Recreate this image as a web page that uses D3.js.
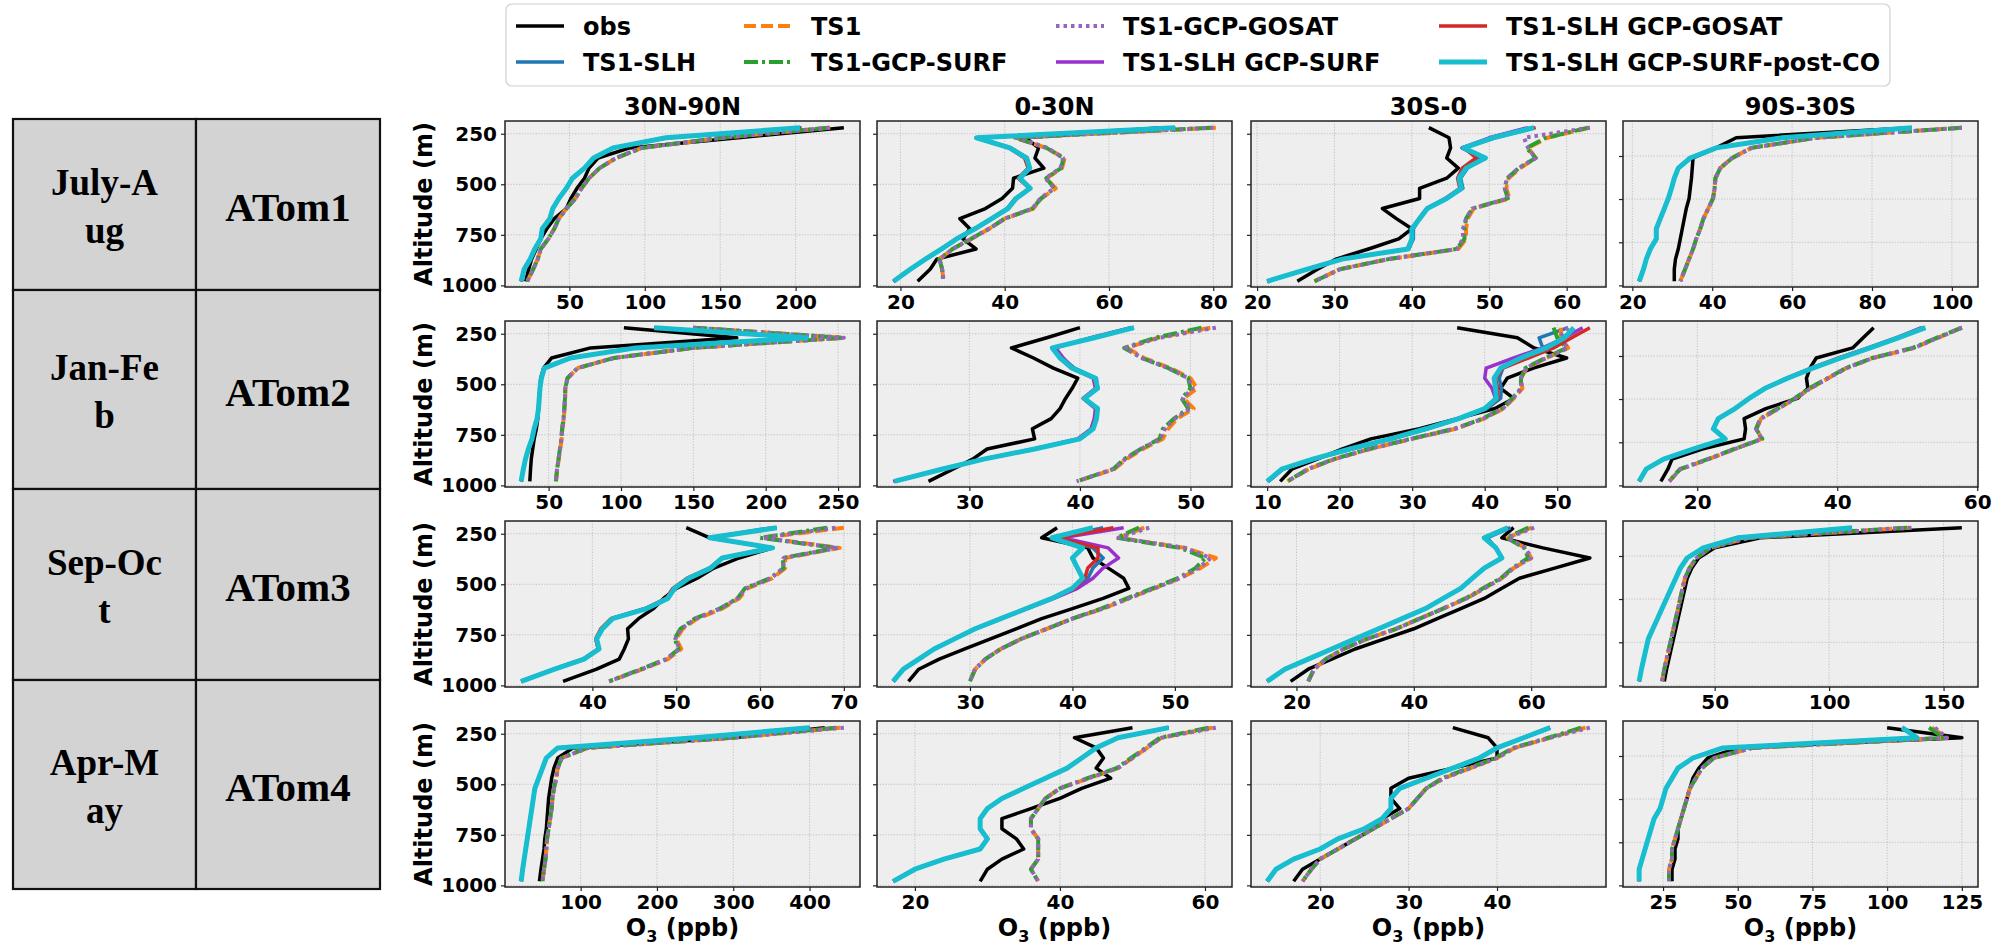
<!DOCTYPE html>
<html><head><meta charset="utf-8">
<script src="https://cdn.jsdelivr.net/npm/d3@7"></script>
<style>
body{margin:0;background:#fff;}
svg text{font-family:"DejaVu Sans",sans-serif;}
</style></head><body>
<script>
// ---------- DATA ----------
const levels = [220, 270, 320, 370, 420, 470, 520, 570, 620, 670, 720, 770, 820, 870, 920, 980];
const regions = ["30N-90N", "0-30N", "30S-0", "90S-30S"];
const campaigns = ["ATom1", "ATom2", "ATom3", "ATom4"];
const seasons = [["July-A", "ug"], ["Jan-Fe", "b"], ["Sep-Oc", "t"], ["Apr-M", "ay"]];
const seriesNames = ["obs", "TS1-SLH", "TS1", "TS1-GCP-SURF", "TS1-GCP-GOSAT", "TS1-SLH GCP-SURF", "TS1-SLH GCP-GOSAT", "TS1-SLH GCP-SURF-post-CO"];
const yTicks = [250, 500, 750, 1000];
const yTicksLast = [360, 573, 787, 1000];
const xTicks = [
  [50,100,150,200],[20,40,60,80],[20,30,40,50,60],[20,40,60,80,100],
  [50,100,150,200,250],[30,40,50],[10,20,30,40,50],[20,40,60],
  [40,50,60,70],[30,40,50],[20,40,60],[50,100,150],
  [100,200,300,400],[20,40,60],[20,30,40],[25,50,75,100,125]
];
// panels in row-major order: row = campaign, column = region
const obs = [
  [232,162,90,69,63,60,55,51,48,40,35,31,28,25,23,21],
  [70,44,46.5,45.8,47.5,41.7,41.5,39.5,36.3,31.4,33.3,32,34.5,27,25.7,23.3],
  [42.2,44.8,45,44.5,46,44.5,41,41,36.2,38,40,38.3,34.4,30.2,27.8,25.2],
  [90,46,41,35.2,35,34.8,34.5,34.2,33.5,33,32.5,32,31.5,30.8,30.5,30.5],
  [102,180,79,52,46.5,44.5,44,43.5,43,42.5,41.5,40,39,38,37.5,37],
  [40,37,33.8,35.8,37.6,39.8,39.3,38.7,38.2,37.4,35.7,35.9,31.6,30.3,28.5,26.3],
  [36.2,44.5,46.8,51.3,46.7,43.1,42.2,44,41.4,36.2,31,24.3,20.4,16.9,13.4,11.8],
  [45.2,43.7,42.2,37,36.1,35.6,35.8,34.3,29.8,26.7,26.9,26.7,20.7,16.4,15.8,14.8],
  [51.2,54,61.5,57.5,54.5,52.5,50,48.5,47.3,45.5,44.2,44.3,43.8,43.2,40.5,36.5],
  [38.5,37,41.5,42,43.5,45,45.5,43,40,37,34.5,32,29.5,27,25,24],
  [57,55,62,70,64,58,55,52,48,44,40,35,30,26,22,19],
  [158,70,50,43,40,38,37,36,35,34,33,32,31,30,29,28],
  [420,300,90,70,65,62,60,58,57,56,55,53,52,50,48,46],
  [50,42,45,46,45,47,43,40,36,32,32,34,35,32,30,29],
  [35,39,40,40,35,30,28,28,29,27,26,24,22,20,18,17],
  [100,125,50,40,37,35,34,33,32,31,30,30,29,29,28,28]
];
const ts1 = [
  [223,151,98,81,70,63,58,54,48,43,40,36,31,29,26,22],
  [80.5,42,48,51.5,51,48,49.8,47,45.5,40,37,33.6,30,27.5,28,28.3],
  [63,57.5,55,56,54,52.5,52.2,52.6,48,47.2,47,47,46,37,30.7,27.4],
  [102.5,66,49.8,45,42,40.8,40.6,40.2,39,37.8,37,36,35.2,34.2,33.2,32],
  [150,254,150,95,70,63,61.5,61.5,61,60.5,59.5,59,58,57,56,55],
  [51.8,47,44.3,45.8,48.2,50,50.6,49.4,50.3,48.8,48,47.5,45.7,44.2,43.1,39.7],
  [50.5,50.5,51.5,48.5,45.8,45,45.2,44,42.6,39.9,36,30,24.2,19.3,15.7,12.8],
  [57.8,54.4,51,45.1,41.3,38.7,36.2,34,31.6,29.1,28.5,29.2,25.4,21.6,17.6,16],
  [70,60.5,69.5,63,63,61.5,58.5,57.5,55.5,52.5,50.8,50,50.6,49,46,42],
  [47,44.5,51,54,52.5,50.5,48,45.5,43,40,37.5,35,33,31.5,30.5,30],
  [60,56,59,60,57,55,52,49,45,41,37,32,28,25,23,22],
  [135,65,48,42,39,37,36,35,34,33,32,31,30,29,28,27],
  [440,300,110,75,70,68,65,63,62,60,58,56,55,54,52,50],
  [61,54,52,50,48,44,40,38,37,36,36,37,37,37,36,37],
  [50,46,42,40,37,34,32,31,30,28,26,24,22,20,19,18],
  [115,120,55,42,38,36,34,33,32,31,30,29,28,28,27,27]
];
const gcpSurf = [
  [222,150,98,81,70,63,58,54,48,43,40,36,31,29,26,22],
  [79.5,42,48,51.3,50.8,48,49.5,47,45.3,40,37,33.5,30,27.5,28,28.2],
  [62.8,57.3,54.8,56,53.8,52.3,52,52.4,47.8,47,46.8,46.8,45.8,37,30.7,27.4],
  [102.5,66,49.8,45,42,40.8,40.6,40.2,39,37.8,37,36,35.2,34.2,33.2,32],
  [150,253,150,95,70,63,61.5,61.3,60.8,60.3,59.3,58.8,57.8,56.8,55.8,55],
  [51,46.8,44,45.6,48,49.8,50,49.2,49.8,48.5,47.5,47.2,45.5,44,43,39.7],
  [49.5,50,51.3,48.3,45.6,45,45,43.8,42.4,39.7,35.8,29.8,24,19.2,15.6,12.8],
  [57.8,54.2,50.8,45,41.2,38.6,36,33.9,31.5,29,28.4,29.3,25.3,21.5,17.5,16],
  [68,60,69,62.7,62.8,61.2,58.2,57.3,55.2,52.2,50.5,49.8,50.3,48.8,45.8,42],
  [46.5,44.3,50.5,53,52,50.3,47.8,45.3,42.8,40,37.5,35,33,31.5,30.5,30],
  [59.5,55.8,58.8,59.5,56.8,54.8,51.8,48.8,45,41,37,32,28,25,23,22],
  [134,64,48,42,39,37,36,35,34,33,32,31,30,29,28,27],
  [435,298,108,75,70,68,65,63,62,60,58,56,55,54,52,50],
  [60.5,53.8,51.8,49.8,47.8,43.8,40,38,37,36,36,37,37,37,36,37],
  [49.5,45.8,41.8,39.8,36.8,33.8,32,31,30,28,26,24,22,20,19,18],
  [114,119,54.5,42,38,36,34,33,32,31,30,29,28,28,27,27]
];
const gcpGosat = [
  [222.5,151,98,81,70,63,58,54,48,43,40,36,31,29,26,22],
  [80,42.3,48.2,51.2,50.7,47.8,49.5,46.8,45.3,40,37,33.5,30,27.5,28,28.3],
  [63,54.5,55,56,53.8,52.3,52,52.4,47.8,47,46.6,46.6,45.8,37,30.7,27.4],
  [102.5,66,49.8,45,42,40.8,40.6,40.2,39,37.8,37,36,35.2,34.2,33.2,32],
  [150,254,150,95,70,63,61.5,61.3,60.8,60.3,59.3,58.8,57.8,56.8,55.8,55],
  [52.3,47.2,44.1,45.6,48,49.8,50.2,49.3,50,48.6,47.7,47.3,45.5,44.1,43,39.7],
  [51.5,50.2,51.5,48.5,45.7,45,45.1,43.9,42.5,39.8,35.9,29.9,24.1,19.3,15.6,12.8],
  [57.8,54.4,51,45.1,41.3,38.7,36.2,34,31.6,29.1,28.4,29.2,25.4,21.6,17.6,16],
  [69,60.3,69.3,62.8,62.8,61.3,58.3,57.3,55.3,52.3,50.6,49.9,50.4,48.9,45.9,42],
  [47.5,44.5,51,53.5,52.3,50.5,48,45.5,43,40,37.5,35,33,31.5,30.5,30],
  [60.5,56,59,60,57,55,52,49,45,41,37,32,28,25,23,22],
  [136,65,48,42,39,37,36,35,34,33,32,31,30,29,28,27],
  [445,300,110,75,70,68,65,63,62,60,58,56,55,54,52,50],
  [61.5,54,52,50,48,44,40,38,37,36,36,37,37,37,36,37],
  [50.5,46,42,40,37,34,32,31,30,28,26,24,22,20,19,18],
  [116,120,55,42,38,36,34,33,32,31,30,29,28,28,27,27]
];
const postCO = [
  [203,114,79,66,60,52,48,43,39,37,32,31,27,24,20,18],
  [72.7,34.6,41,44.2,44.8,42.9,44.9,42.2,40.6,37.5,34.3,30.8,27.9,24.8,21.9,18.7],
  [55.8,50.5,46.7,49.5,47,46.1,46.4,44.5,42,41,40,40,39.5,31,26.5,21.3],
  [90,57.5,41,34.5,31.5,30.5,29.8,29,28,27,26,26,24.5,23.5,22.8,21.7],
  [123,228,110,65,47,45,44,43.5,43,42,40,38.5,36,34,32.5,31],
  [44.9,41.3,37.5,38.2,39.3,41.4,41.6,40.4,41.6,41.5,41.2,40,35.9,31.3,27.5,23.2],
  [52.3,51,48.5,45,42.2,41.3,41.5,41.6,40,36.4,31.9,27,21.4,16.3,12,10],
  [52.6,48.7,44.7,40.5,36.5,32.9,29.7,27.4,25.4,23,22.3,24,19.5,15.2,12.7,11.7],
  [62,54,61.5,55.5,54.1,51.5,49.8,49,46.5,42.4,41.2,40.5,40.8,39,35.5,31.5],
  [42,38,41,40,40.5,41,40,38,35.5,33,30.5,28.5,26.5,25,23.5,22.5],
  [56,52,54,55,52,50,48,45,42,38,34,30,26,22,18,15],
  [110,60,45,38,35,33,31,29,27,25,23,21,20,19,18,17],
  [400,250,70,55,50,45,40,38,36,34,32,30,28,26,24,22],
  [55,48,45,43,41,38,35,32,30,29,29,30,29,24,20,17],
  [46,43,40,38,35,32,29,28,28,27,25,22,20,17,15,14],
  [105,110,45,35,30,28,26,25,24,22,21,20,19,18,17,17]
];
const ts1Slh = [
  [204,115,79,66,60,52,48,43,39,37,32,31,27,24,20,18],
  [72,34.8,41.2,44.3,44.8,42.9,44.8,42.2,40.6,37.5,34.3,30.8,27.9,24.8,21.9,18.7],
  [55.5,50.3,46.5,49,47.2,46.3,46.6,44.5,42,41,40.2,40.2,39.6,31,26.5,21.3],
  [89.5,57.5,41,34.5,31.5,30.5,29.8,29,28,27,26,26,24.5,23.5,22.8,21.7],
  [123,228,110,65,47,45,44,43.5,43,42,40,38.5,36,34,32.5,31],
  [44.7,41.2,37.6,38.4,39.5,41.5,41.5,40.4,41.5,41.4,41.1,40,35.9,31.3,27.5,23.2],
  [51.5,47.5,48,45.5,42.5,42,42.3,42.2,40.3,36.6,32,27,21.5,16.4,12.2,10.2],
  [52.4,48.6,44.6,40.4,36.5,32.9,29.7,27.4,25.4,23,22.3,24,19.5,15.2,12.7,11.7],
  [62,54,61.5,55.5,54.1,51.5,49.8,49,46.5,42.4,41.2,40.5,40.8,39,35.5,31.5],
  [43,38.5,42,43,42,41.5,40.3,38,35.5,33,30.5,28.5,26.5,25,23.5,22.5],
  [56.5,52.5,54,55,52,50,48,45,42,38,34,30,26,22,18,15],
  [110,60,45,38,35,33,31,29,27,25,23,21,20,19,18,17],
  [400,250,70,55,50,45,40,38,36,34,32,30,28,26,24,22],
  [55,48,45,43,41,38,35,32,30,29,29,30,29,24,20,17],
  [46,43,40,38,35,32,29,28,28,27,25,22,20,17,15,14],
  [105,110,45,35,30,28,26,25,24,22,21,20,19,18,17,17]
];
const slhSurf = [
  [203,114,79,66,60,52,48,43,39,37,32,31,27,24,20,18],
  [72.5,34.5,40.8,44,44.6,42.8,44.8,42.1,40.5,37.4,34.2,30.7,27.8,24.7,21.8,18.6],
  [55,50,46.5,49,46.8,46,46.3,44.3,41.9,40.9,40,40,39.4,31,26.5,21.3],
  [90,57.5,41,34.5,31.5,30.5,29.8,29,28,27,26,26,24.5,23.5,22.8,21.7],
  [123,228,110,65,47,45,44,43.5,43,42,40,38.5,36,34,32.5,31],
  [44.6,41,37.8,38.5,39.4,41.2,41.4,40.3,41.4,41.3,41,39.8,35.8,31.2,27.4,23.1],
  [53.5,51,48,44,40.2,40,41,41.5,40,36.5,32,27,21.5,16.3,12,10],
  [52,48.5,44.5,40.3,36.4,32.9,29.7,27.4,25.4,23,22.3,24,19.5,15.2,12.7,11.7],
  [61.5,54,61.3,55.5,54,51.4,49.7,48.9,46.4,42.3,41.1,40.4,40.7,38.9,35.4,31.5],
  [45,39,43.5,44.5,43,42,40.5,38.2,35.6,33,30.5,28.5,26.5,25,23.5,22.5],
  [56,52,54,55,52,50,48,45,42,38,34,30,26,22,18,15],
  [110,60,45,38,35,33,31,29,27,25,23,21,20,19,18,17],
  [400,250,70,55,50,45,40,38,36,34,32,30,28,26,24,22],
  [55,48,45,43,41,38,35,32,30,29,29,30,29,24,20,17],
  [46,43,40,38,35,32,29,28,28,27,25,22,20,17,15,14],
  [105,110,45,35,30,28,26,25,24,22,21,20,19,18,17,17]
];
const slhGosat = [
  [203.5,114,79,66,60,52,48,43,39,37,32,31,27,24,20,18],
  [72.7,34.8,40.8,43.8,44.5,42.6,44.7,42,40.5,37.4,34.2,30.7,27.8,24.8,21.9,18.7],
  [56,50.7,46.8,48.3,46.5,45.9,46.2,44.4,42,41,40,40,39.5,31,26.5,21.3],
  [90,57.5,41,34.5,31.5,30.5,29.8,29,28,27,26,26,24.5,23.5,22.8,21.7],
  [123,228,110,65,47,45,44,43.5,43,42,40,38.5,36,34,32.5,31],
  [44.8,41.1,37.6,38.2,39.2,41.3,41.5,40.3,41.5,41.4,41.1,39.9,35.9,31.3,27.5,23.2],
  [54.5,52,49.5,46,42.5,41.5,41.8,41.8,40.2,36.5,32,27.2,21.6,16.4,12.1,10.1],
  [52.3,48.4,44.4,40.2,36.3,32.8,29.6,27.4,25.4,23,22.3,24,19.5,15.2,12.7,11.7],
  [61.8,54,61.4,55.4,54,51.3,49.6,48.8,46.3,42.2,41,40.4,40.7,38.9,35.4,31.5],
  [44,38.5,42.5,42.5,41.5,41.2,40.2,38,35.5,33,30.5,28.5,26.5,25,23.5,22.5],
  [56,52,54,55,52,50,48,45,42,38,34,30,26,22,18,15],
  [110,60,45,38,35,33,31,29,27,25,23,21,20,19,18,17],
  [400,250,70,55,50,45,40,38,36,34,32,30,28,26,24,22],
  [55,48,45,43,41,38,35,32,30,29,29,30,29,24,20,17],
  [46,43,40,38,35,32,29,28,28,27,25,22,20,17,15,14],
  [105,110,45,35,30,28,26,25,24,22,21,20,19,18,17,17]
];

// ---------- STYLE / LAYOUT ----------
const allSeries = [obs, ts1Slh, ts1, gcpSurf, gcpGosat, slhSurf, slhGosat, postCO];
const colors = ["#000000", "#1f77b4", "#ff7f0e", "#2ca02c", "#9467bd", "#9932cc", "#d62728", "#17becf"];
const dashes = [null, null, "12,5", "14,4,3,4", "3.5,4", null, null, null];
const widths = [3.5, 3.5, 4, 4, 4, 3.5, 3.5, 5];

const colLeft = [505, 877, 1251, 1623], rowTop = [121, 321, 521, 721];
const pw = 355, ph = 166;

const svg = d3.select("body").append("svg").attr("width", 2000).attr("height", 946);
svg.append("rect").attr("width", 2000).attr("height", 946).attr("fill", "#fff");

const y = d3.scaleLinear().domain([187, 1008]).range([0, ph]);

// ---------- LEFT TABLE ----------
const tRows = [119, 290, 489, 680, 889], tCols = [13, 196, 380];
const tab = svg.append("g");
for (let r = 0; r < 4; r++) {
  for (let c = 0; c < 2; c++) {
    tab.append("rect").attr("x", tCols[c]).attr("y", tRows[r])
      .attr("width", tCols[c + 1] - tCols[c]).attr("height", tRows[r + 1] - tRows[r])
      .attr("fill", "#d3d3d3").attr("stroke", "#111").attr("stroke-width", 2.2);
  }
  const cy = (tRows[r] + tRows[r + 1]) / 2;
  const cx1 = (tCols[0] + tCols[1]) / 2, cx2 = (tCols[1] + tCols[2]) / 2;
  const st = t => t.style("font-family", "'Liberation Serif','Times New Roman',serif").style("font-weight", "bold").attr("text-anchor", "middle");
  st(tab.append("text").attr("x", cx1).attr("y", cy - 10).style("font-size", "37px").text(seasons[r][0]));
  st(tab.append("text").attr("x", cx1).attr("y", cy + 38).style("font-size", "37px").text(seasons[r][1]));
  st(tab.append("text").attr("x", cx2).attr("y", cy + 16).style("font-size", "41px").text(campaigns[r]));
}

// ---------- TITLES & AXIS LABELS ----------
regions.forEach((name, c) => {
  svg.append("text").attr("x", colLeft[c] + pw / 2).attr("y", 115).attr("text-anchor", "middle")
    .style("font-size", "24px").style("font-weight", "bold").text(name);
  const xl = svg.append("text").attr("x", colLeft[c] + pw / 2).attr("y", 936).attr("text-anchor", "middle")
    .style("font-size", "24px").style("font-weight", "bold");
  xl.append("tspan").text("O");
  xl.append("tspan").attr("dy", 6).style("font-size", "16px").text("3");
  xl.append("tspan").attr("dy", -6).text(" (ppb)");
});
for (let r = 0; r < 4; r++) {
  svg.append("text").attr("transform", `translate(432,${rowTop[r] + ph / 2}) rotate(-90)`)
    .attr("text-anchor", "middle").style("font-size", "24px").style("font-weight", "bold").text("Altitude (m)");
}

// ---------- PANELS ----------
const line = d3.line();
for (let r = 0; r < 4; r++) {
  for (let c = 0; c < 4; c++) {
    const p = r * 4 + c;
    const g = svg.append("g").attr("transform", `translate(${colLeft[c]},${rowTop[r]})`);
    const vals = allSeries.flatMap(s => s[p]);
    const [mn, mx] = d3.extent(vals);
    const pad = (mx - mn) * 0.05;
    const x = d3.scaleLinear().domain([mn - pad, mx + pad]).range([0, pw]);
    const yt = c === 3 ? yTicksLast : yTicks;

    g.append("rect").attr("width", pw).attr("height", ph).attr("fill", "#eeeeee");
    g.selectAll(".gx").data(xTicks[p]).enter().append("line")
      .attr("x1", d => x(d)).attr("x2", d => x(d)).attr("y1", 0).attr("y2", ph)
      .attr("stroke", "#b5b5b5").attr("stroke-width", 0.8).attr("stroke-dasharray", "1.2,1.6");
    g.selectAll(".gy").data(yt).enter().append("line")
      .attr("x1", 0).attr("x2", pw).attr("y1", d => y(d)).attr("y2", d => y(d))
      .attr("stroke", "#b5b5b5").attr("stroke-width", 0.8).attr("stroke-dasharray", "1.2,1.6");

    const ax = g.append("g").attr("transform", `translate(0,${ph})`)
      .call(d3.axisBottom(x).tickValues(xTicks[p]).tickSize(4).tickPadding(4).tickFormat(d3.format("d")));
    const ay = g.append("g")
      .call(d3.axisLeft(y).tickValues(yt).tickSize(4).tickPadding(4).tickFormat(c === 0 ? d3.format("d") : ""));
    [ax, ay].forEach(a => {
      a.select(".domain").remove();
      a.selectAll(".tick line").attr("stroke", "#222").attr("stroke-width", 1.2);
      a.selectAll(".tick text").style("font-size", "20px").style("font-weight", "bold")
        .style("font-family", "'DejaVu Sans',sans-serif").attr("fill", "#000");
    });

    allSeries.forEach((s, k) => {
      const pts = s[p].map((v, i) => [x(v), y(levels[i])]);
      const path = g.append("path").attr("d", line(pts)).attr("fill", "none")
        .attr("stroke", colors[k]).attr("stroke-width", widths[k])
        .attr("stroke-linejoin", "round");
      if (dashes[k]) path.attr("stroke-dasharray", dashes[k]);
    });

    g.append("rect").attr("width", pw).attr("height", ph).attr("fill", "none")
      .attr("stroke", "#222").attr("stroke-width", 1.5);
  }
}

// ---------- LEGEND ----------
const lg = svg.append("g");
lg.append("rect").attr("x", 506).attr("y", 4).attr("width", 1384).attr("height", 82).attr("rx", 6)
  .attr("fill", "#fff").attr("stroke", "#d0d0d0").attr("stroke-width", 1.2);
const legColX = [516, 744, 1056, 1439];
const legRowY = [26, 62];
seriesNames.forEach((name, k) => {
  const cx = legColX[Math.floor(k / 2)], cy = legRowY[k % 2];
  const l = lg.append("line").attr("x1", cx).attr("x2", cx + 48).attr("y1", cy).attr("y2", cy)
    .attr("stroke", colors[k]).attr("stroke-width", widths[k]);
  if (dashes[k]) l.attr("stroke-dasharray", dashes[k]);
  lg.append("text").attr("x", cx + 67).attr("y", cy + 8.5).style("font-size", "24px")
    .style("font-weight", "bold").text(name);
});
</script>
</body></html>
